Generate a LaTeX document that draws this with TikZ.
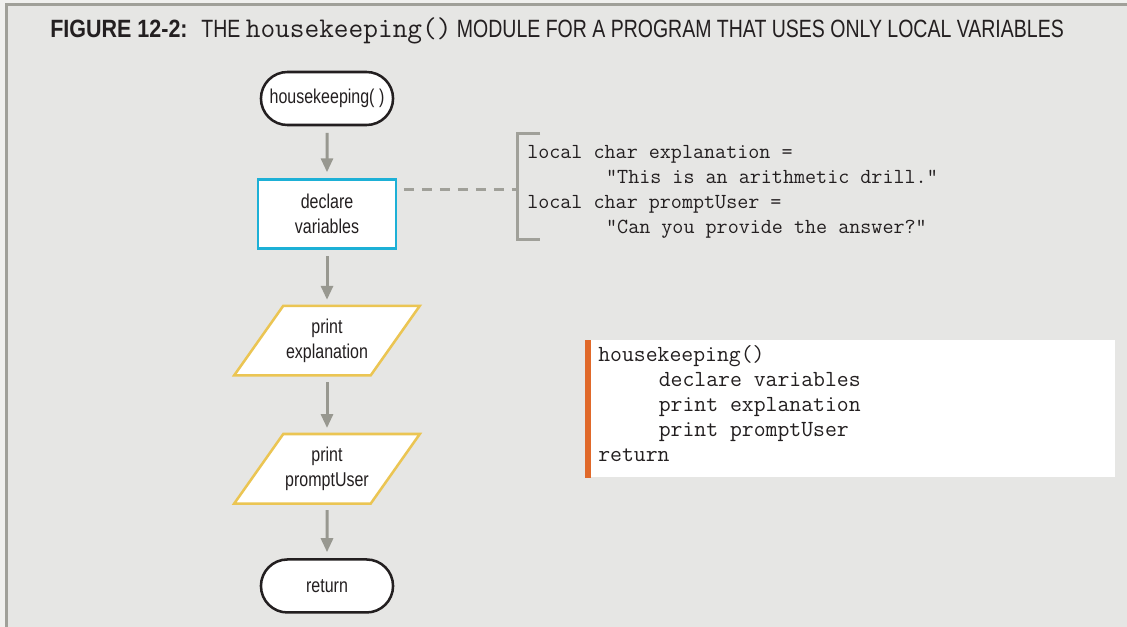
\documentclass[tikz,border=0pt]{standalone}
\usepackage{fontspec}
\setmainfont{Liberation Sans}
\newfontfamily\condsans[FakeStretch=0.8]{Liberation Sans}
\newfontfamily\titlesans[FakeStretch=0.78, BoldFeatures={FakeStretch=0.86}]{Liberation Sans}
\usepackage{tikz}
\usetikzlibrary{shapes.misc,arrows.meta,positioning,backgrounds}
\usepackage{xcolor}
\definecolor{pagegrey}{RGB}{240,240,238}
\definecolor{panelgrey}{RGB}{230,230,228}
\definecolor{rulegrey}{RGB}{160,160,153}
\definecolor{flowgrey}{RGB}{152,152,144}
\definecolor{inkblack}{RGB}{35,31,32}
\definecolor{declcyan}{RGB}{29,176,214}
\definecolor{ioyellow}{RGB}{235,197,83}
\definecolor{codeorange}{RGB}{224,105,42}
\newcommand{\flowfont}{\condsans\fontsize{15pt}{18.75pt}\selectfont}

\begin{document}
\begin{tikzpicture}[x=0.75pt, y=-0.75pt,
    term/.style={rounded rectangle, draw=inkblack, fill=white, line width=1.9pt,
        minimum width=105.75pt, minimum height=39.75pt, font=\flowfont, text=inkblack},
    procbox/.style={rectangle, draw=declcyan, fill=white, line width=1.9pt,
        minimum width=103.5pt, minimum height=51.75pt, align=center,
        font=\flowfont, text=inkblack},
    iobox/.style={rectangle, minimum width=102pt, minimum height=51.75pt,
        align=center, font=\flowfont, text=inkblack},
    ioline/.style={draw=ioyellow, fill=white, line width=1.9pt, line join=miter},
    flow/.style={->, line width=2.25pt, draw=flowgrey, shorten <=5pt, shorten >=4.5pt},
    codetext/.style={font=\ttfamily\fontsize{16.1pt}{18.75pt}\selectfont,
        text=inkblack, align=left, inner sep=0pt},
    >={Triangle[width=9pt,length=10.5pt]}
]
\useasboundingbox (0,0) rectangle (1127,627);

\node[anchor=base west, inner sep=0pt, text=inkblack] (title) at (50,38)
    {\titlesans\fontsize{18.75pt}{22pt}\selectfont\textbf{FIGURE 12-2:}\hspace{0.55em}THE
     {\ttfamily\fontsize{21.4pt}{22pt}\selectfont housekeeping()} MODULE FOR A PROGRAM
     THAT USES ONLY LOCAL VARIABLES};

% flowchart
\node[term] (hk) at (327,98.5) {housekeeping( )};
\node[procbox, below=39pt of hk] (decl) {declare\\variables};
\node[iobox, below=42pt of decl] (prexp) {print\\explanation};
\node[iobox, below=44pt of prexp] (prpu) {print\\promptUser};
\node[term, below=41pt of prpu] (ret) {return};

\begin{scope}[on background layer]
\fill[pagegrey] (0,0) rectangle (1127,627);
\fill[panelgrey] (6,5) rectangle (1127,627);
\foreach \io in {prexp,prpu}
    \draw[ioline] ([xshift=18.4pt]\io.north west) -- ([xshift=18.4pt]\io.north east)
        -- ([xshift=-18.4pt]\io.south east) -- ([xshift=-18.4pt]\io.south west) -- cycle;
\end{scope}
\draw[rulegrey, line width=2.25pt] (6,627) -- (6,5) -- (1127,5);

\draw[flow] (hk) -- (decl);
\draw[flow] (decl) -- (prexp);
\draw[flow] (prexp) -- (prpu);
\draw[flow] (prpu) -- (ret);

% local declarations
\node[codetext, anchor=north west] (defs) at (527,145)
    {local char explanation =\\
     \hspace*{3.675em}"This is an arithmetic drill."\\
     local char promptUser =\\
     \hspace*{3.675em}"Can you provide the answer?"};
\coordinate (brk) at (517,190);
\draw[rulegrey, line width=2.25pt] (540,134) -- (517,134) -- (517,240) -- (540,240);
\draw[rulegrey, line width=2.25pt, dash pattern=on 7.5pt off 6pt, shorten <=5pt]
    (decl.east |- brk) -- (brk);

% pseudocode
\node[fill=white, minimum width=397.5pt, minimum height=102.75pt, inner sep=0pt,
      anchor=north west] (pbox) at (585,340) {};
\fill[codeorange] (pbox.north west) rectangle ([xshift=4.5pt]pbox.south west);
\node[codetext, font=\ttfamily\fontsize{17.3pt}{18.75pt}\selectfont, anchor=north west]
    (ptext) at ([xshift=9.75pt, yshift=-3.75pt]pbox.north west)
    {housekeeping()\\
     \hspace*{2.625em}declare variables\\
     \hspace*{2.625em}print explanation\\
     \hspace*{2.625em}print promptUser\\
     return};
\end{tikzpicture}
\end{document}
